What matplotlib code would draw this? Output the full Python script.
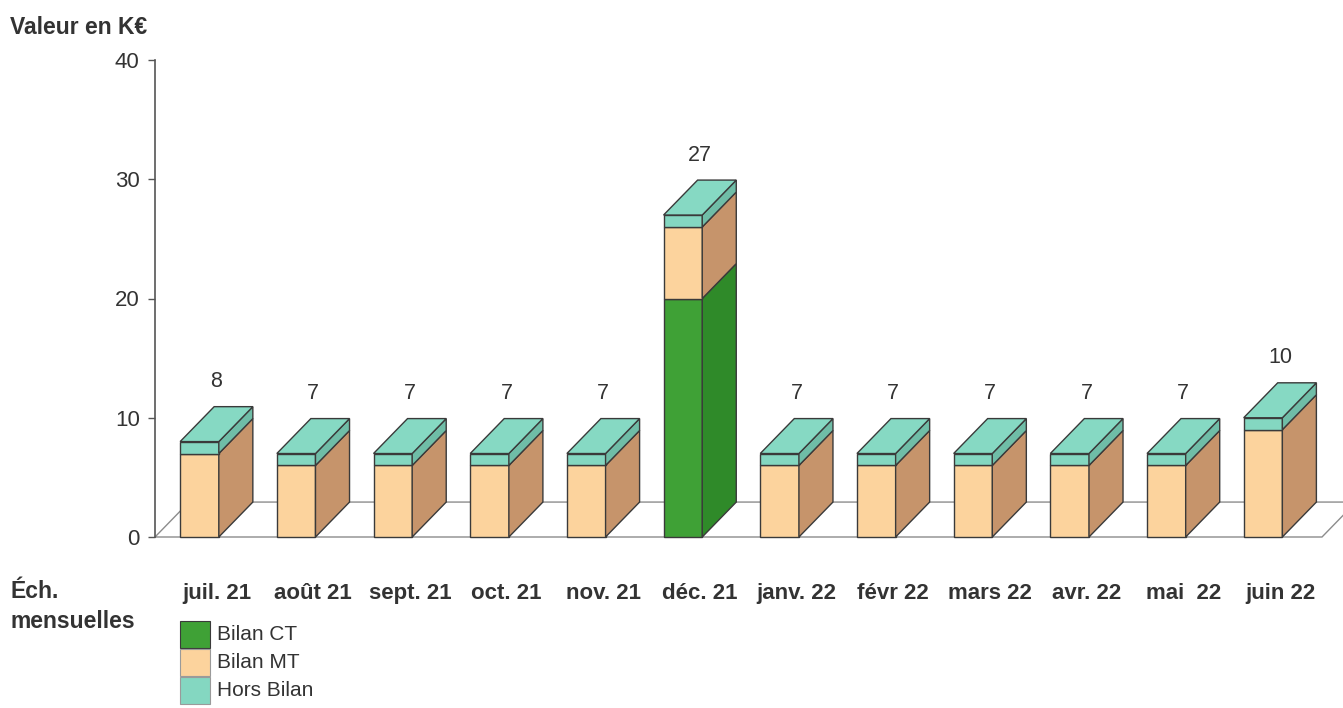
import matplotlib
matplotlib.use("Agg")
import matplotlib.pyplot as plt
from matplotlib.patches import Polygon, Rectangle

# Monthly maturities, values in K€
months = ["juil. 21", "août 21", "sept. 21", "oct. 21", "nov. 21", "déc. 21",
          "janv. 22", "févr 22", "mars 22", "avr. 22", "mai  22", "juin 22"]
bilan_ct = [0, 0, 0, 0, 0, 20, 0, 0, 0, 0, 0, 0]
bilan_mt = [7, 6, 6, 6, 6, 6, 6, 6, 6, 6, 6, 9]
hors_bilan = [1, 1, 1, 1, 1, 1, 1, 1, 1, 1, 1, 1]
series_names = ["Bilan CT", "Bilan MT", "Hors Bilan"]
y_ticks = [0, 10, 20, 30, 40]

plt.rcParams["font.family"] = ["Liberation Sans", "DejaVu Sans"]

W, H = 1343, 708
fig = plt.figure(figsize=(W / 100, H / 100), dpi=100)
ax = fig.add_axes([155 / W, 1 - 537 / H, (1322 - 155) / W, (537 - 60) / H])

xmin, xmax = -0.46, 11.61
ax.set_xlim(xmin, xmax)
ax.set_ylim(0, 40)

bar_w = 0.40          # width of a bar front face (category units)
dx, dy = 0.352, 2.93  # oblique depth offset (x units, value units)

face = {
    "ct": ("#3fa136", "#2f8a29", None),
    "mt": ("#fcd39d", "#c6946b", None),
    "hb": ("#84d7c1", "#6fbda7", "#86d9c3"),
}
edge = "#3a3a3a"
lw = 1.0
text_col = "#333333"

# floor
floor = Polygon([(xmin, 0), (xmax, 0), (xmax + dx, dy), (xmin + dx, dy)],
                closed=True, facecolor="white", edgecolor="#8c8c8c", lw=1.0,
                clip_on=False, zorder=1)
ax.add_patch(floor)


def draw_segment(x0, b, h, front, side):
    ax.add_patch(Rectangle((x0, b), bar_w, h, facecolor=front, edgecolor=edge,
                           lw=lw, clip_on=False, zorder=3))
    ax.add_patch(Polygon([(x0 + bar_w, b), (x0 + bar_w + dx, b + dy),
                          (x0 + bar_w + dx, b + h + dy), (x0 + bar_w, b + h)],
                         closed=True, facecolor=side, edgecolor=edge, lw=lw,
                         clip_on=False, zorder=3))


for i in range(len(months)):
    x0 = i - bar_w / 2
    base = 0
    for key, val in (("ct", bilan_ct[i]), ("mt", bilan_mt[i]), ("hb", hors_bilan[i])):
        if val > 0:
            draw_segment(x0, base, val, face[key][0], face[key][1])
            base += val
    # top face
    ax.add_patch(Polygon([(x0, base), (x0 + dx, base + dy),
                          (x0 + bar_w + dx, base + dy), (x0 + bar_w, base)],
                         closed=True, facecolor=face["hb"][2], edgecolor=edge,
                         lw=lw, clip_on=False, zorder=4))
    total = bilan_ct[i] + bilan_mt[i] + hors_bilan[i]
    ax.text(i + dx / 2, total + dy + 2.1, f"{total}", ha="center", va="center",
            fontsize=15.5, color=text_col, zorder=5)

# axes styling
for s in ("top", "right", "bottom"):
    ax.spines[s].set_visible(False)
ax.spines["left"].set_color("#555555")
ax.spines["left"].set_linewidth(1.2)
ax.set_yticks(y_ticks)
ax.set_yticklabels([str(t) for t in y_ticks])
ax.tick_params(axis="y", length=5, width=1, color="#555555", pad=6,
               labelsize=16, labelcolor=text_col)
ax.set_xticks([i + dx / 2 for i in range(len(months))])
ax.set_xticklabels(months, fontweight="bold", fontsize=16, color=text_col)
ax.tick_params(axis="x", length=0, pad=33)
ax.patch.set_alpha(0)

# side texts
fig.text(10 / W, 1 - 27 / H, "Valeur en K€", fontweight="bold", fontsize=16.5,
         color=text_col, va="center", ha="left")
fig.text(10 / W, 1 - 592 / H, "Éch.", fontweight="bold", fontsize=16.5,
         color=text_col, va="center", ha="left")
fig.text(10 / W, 1 - 621 / H, "mensuelles", fontweight="bold", fontsize=16.5,
         color=text_col, va="center", ha="left")

# legend: stacked swatches with labels
sw_x, sw_w, sw_h, row_h, top = 180, 30, 27, 28, 621
swatch_edges = [edge, "#9a9a9a", "#9a9a9a"]
for k, (name, key) in enumerate(zip(series_names, ("ct", "mt", "hb"))):
    y_top = top + k * row_h
    fig.add_artist(Rectangle((sw_x / W, 1 - (y_top + sw_h) / H), sw_w / W, sw_h / H,
                             transform=fig.transFigure, facecolor=face[key][0],
                             edgecolor=swatch_edges[k], lw=0.8))
    fig.text((sw_x + sw_w + 7) / W, 1 - (y_top + sw_h / 2) / H, name,
             fontsize=15, color=text_col, va="center", ha="left")

fig.savefig("out.png", dpi=100)
